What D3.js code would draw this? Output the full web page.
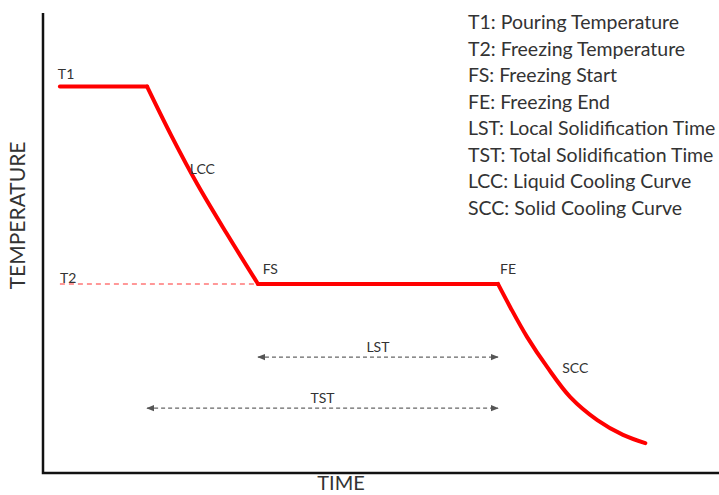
<!DOCTYPE html>
<html>
<head>
<meta charset="utf-8">
<script src="https://cdn.jsdelivr.net/npm/d3@7"></script>
<style>
  body { margin: 0; background: #fff; }
  text { font-family: Lato, "Open Sans", sans-serif; fill: #333; }
</style>
</head>
<body>
<svg id="chart" width="719" height="495"></svg>
<script>
// cooling curve, time in % of axis, temperature in % of axis
// pouring plateau
const pourTime = [2.5, 15.4];
const pourTemp = [84.0, 84.0];
// liquid cooling (LCC)
const lccTime = [15.4, 19.0, 22.9, 27.2, 31.8];
const lccTemp = [84.0, 73.3, 62.6, 52.0, 41.1];
// freezing plateau
const freezeTime = [31.8, 67.3];
const freezeTemp = [41.1, 41.1];
// solid cooling (SCC)
const sccTime = [67.3, 69.1, 71.6, 74.6, 78.0, 82.0, 85.8, 89.1];
const sccTemp = [41.1, 36.1, 29.6, 23.0, 16.5, 11.5, 8.3, 6.5];

const T2 = 41.1;
const tStart = 2.5, tPour = 15.4, tFS = 31.8, tFE = 67.3;

const legendItems = [
  'T1: Pouring Temperature',
  'T2: Freezing Temperature',
  'FS: Freezing Start',
  'FE: Freezing End',
  'LST: Local Solidification Time',
  'TST: Total Solidification Time',
  'LCC: Liquid Cooling Curve',
  'SCC: Solid Cooling Curve'
];

// small labels: [text, time, temp]
const pointLabels = [
  ['T1', 2.2, 85.7],
  ['T2', 2.5, 41.3],
  ['LCC', 21.7, 65.0],
  ['FS', 32.5, 43.3],
  ['FE', 67.6, 43.3],
  ['SCC', 76.8, 21.7]
];

// time spans: [label, from, to, temp]
const spans = [
  ['LST', tFS, tFE, 25.2],
  ['TST', tPour, tFE, 14.1]
];

const svg = d3.select('#chart');
const W = 719;
const x = d3.scaleLinear().domain([0, 100]).range([43, 719]);
const y = d3.scaleLinear().domain([0, 100]).range([473, 13]);

// arrowheads
const defs = svg.append('defs');
defs.append('marker').attr('id', 'arrEnd').attr('viewBox', '0 0 10 10')
  .attr('refX', 9).attr('refY', 5).attr('markerWidth', 6).attr('markerHeight', 6)
  .attr('orient', 'auto')
  .append('path').attr('d', 'M0,1 L10,5 L0,9 Z').attr('fill', '#555');
defs.append('marker').attr('id', 'arrStart').attr('viewBox', '0 0 10 10')
  .attr('refX', 1).attr('refY', 5).attr('markerWidth', 6).attr('markerHeight', 6)
  .attr('orient', 'auto')
  .append('path').attr('d', 'M10,1 L0,5 L10,9 Z').attr('fill', '#555');

// axes (plain lines, no ticks)
svg.append('path')
  .attr('d', `M${x(0)},${y(100)} V${y(0)} H${W}`)
  .attr('fill', 'none').attr('stroke', '#111').attr('stroke-width', 2.5);

// T2 dashed reference
svg.append('line')
  .attr('x1', x(tStart)).attr('x2', x(tFS))
  .attr('y1', y(T2)).attr('y2', y(T2))
  .attr('stroke', '#f77').attr('stroke-width', 1.5).attr('stroke-dasharray', '5,4');

// cooling curve, straight plateaus and smooth cooling segments
const zip = (a, b) => a.map((t, i) => [t, b[i]]);
const lineStraight = d3.line().x(d => x(d[0])).y(d => y(d[1]));
const lineSmooth = d3.line().x(d => x(d[0])).y(d => y(d[1])).curve(d3.curveCatmullRom.alpha(0.5));
[
  [zip(pourTime, pourTemp), lineStraight],
  [zip(lccTime, lccTemp), lineSmooth],
  [zip(freezeTime, freezeTemp), lineStraight],
  [zip(sccTime, sccTemp), lineSmooth]
].forEach(([pts, gen]) => {
  svg.append('path')
    .datum(pts)
    .attr('d', gen)
    .attr('fill', 'none').attr('stroke', '#ff0000').attr('stroke-width', 4)
    .attr('stroke-linecap', 'round').attr('stroke-linejoin', 'round');
});

// time span arrows
spans.forEach(s => {
  svg.append('line')
    .attr('x1', x(s[1])).attr('x2', x(s[2]))
    .attr('y1', y(s[3])).attr('y2', y(s[3]))
    .attr('stroke', '#666').attr('stroke-width', 1.3).attr('stroke-dasharray', '4,3')
    .attr('marker-start', 'url(#arrStart)').attr('marker-end', 'url(#arrEnd)');
  svg.append('text')
    .attr('x', (x(s[1]) + x(s[2])) / 2).attr('y', y(s[3]) - 5)
    .attr('text-anchor', 'middle').attr('font-size', 14)
    .text(s[0]);
});

// point labels
svg.selectAll('.plabel').data(pointLabels).join('text')
  .attr('class', 'plabel')
  .attr('x', d => x(d[1])).attr('y', d => y(d[2]))
  .attr('font-size', 14)
  .text(d => d[0]);

// legend
svg.selectAll('.legend').data(legendItems).join('text')
  .attr('class', 'legend')
  .attr('x', 468).attr('y', (d, i) => 29 + i * 26.5)
  .attr('font-size', 19.5)
  .text(d => d);

// axis titles
svg.append('text')
  .attr('x', 341).attr('y', 490)
  .attr('text-anchor', 'middle').attr('font-size', 20)
  .text('TIME');
svg.append('text')
  .attr('transform', `translate(25,${y(56)}) rotate(-90)`)
  .attr('text-anchor', 'middle').attr('font-size', 21)
  .text('TEMPERATURE');
</script>
</body>
</html>
